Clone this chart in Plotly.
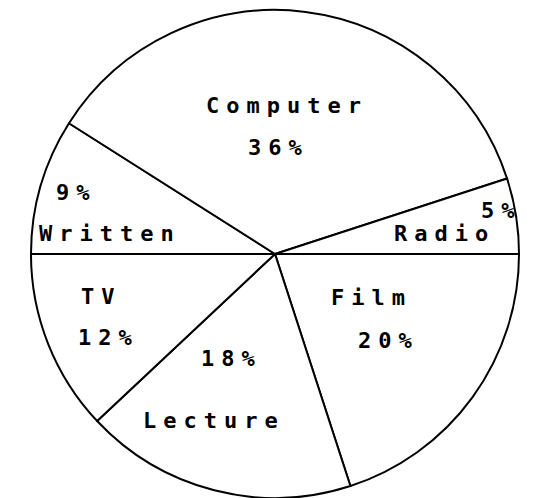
import plotly.graph_objects as go

# slices, clockwise starting from the 9 o'clock line
labels = ['Written', 'Computer', 'Radio', 'Film', 'Lecture', 'TV']
values = [9, 36, 5, 20, 18, 12]

W, H = 555, 498

# label placement in pixels (centre of name text, centre of percent text)
name_pos = {'Written': (106, 233), 'Computer': (283, 106), 'Radio': (441, 233),
            'Film': (368, 297), 'Lecture': (210, 420), 'TV': (98, 296)}
pct_pos = {'Written': (73, 193), 'Computer': (275, 148), 'Radio': (498, 211),
           'Film': (385, 340), 'Lecture': (228, 358), 'TV': (105, 337)}

spacing = 7
font = dict(family='DejaVu Sans Mono', size=22, color='black', weight='bold')

trace = go.Pie(labels=labels,
               values=values,
               sort=False,
               direction='clockwise',
               rotation=-90,
               textinfo='none',
               hoverinfo='label+percent',
               marker=dict(colors=['white'] * len(labels),
                           line=dict(color='black', width=2)),
               domain=dict(x=[0.0, 0.991], y=[0.0, 0.98]),
               showlegend=False)


def spaced(s):
    return '<span style="letter-spacing:%dpx">%s</span>' % (spacing, s)


annotations = []
for lab, val in zip(labels, values):
    for txt, (px, py) in [(lab, name_pos[lab]), ('%d%%' % val, pct_pos[lab])]:
        annotations.append(dict(x=px / W, y=1 - py / H, xref='paper', yref='paper',
                                text=spaced(txt), showarrow=False, font=font,
                                xanchor='center', yanchor='middle',
                                xshift=spacing / 2))

layout = go.Layout(width=W, height=H,
                   margin=dict(l=0, r=0, t=0, b=0),
                   paper_bgcolor='white',
                   plot_bgcolor='white',
                   annotations=annotations)

fig = go.Figure(data=[trace], layout=layout)
fig.write_html('out.html', config={'displayModeBar': False},
               post_script="document.body.style.margin='0px';")
